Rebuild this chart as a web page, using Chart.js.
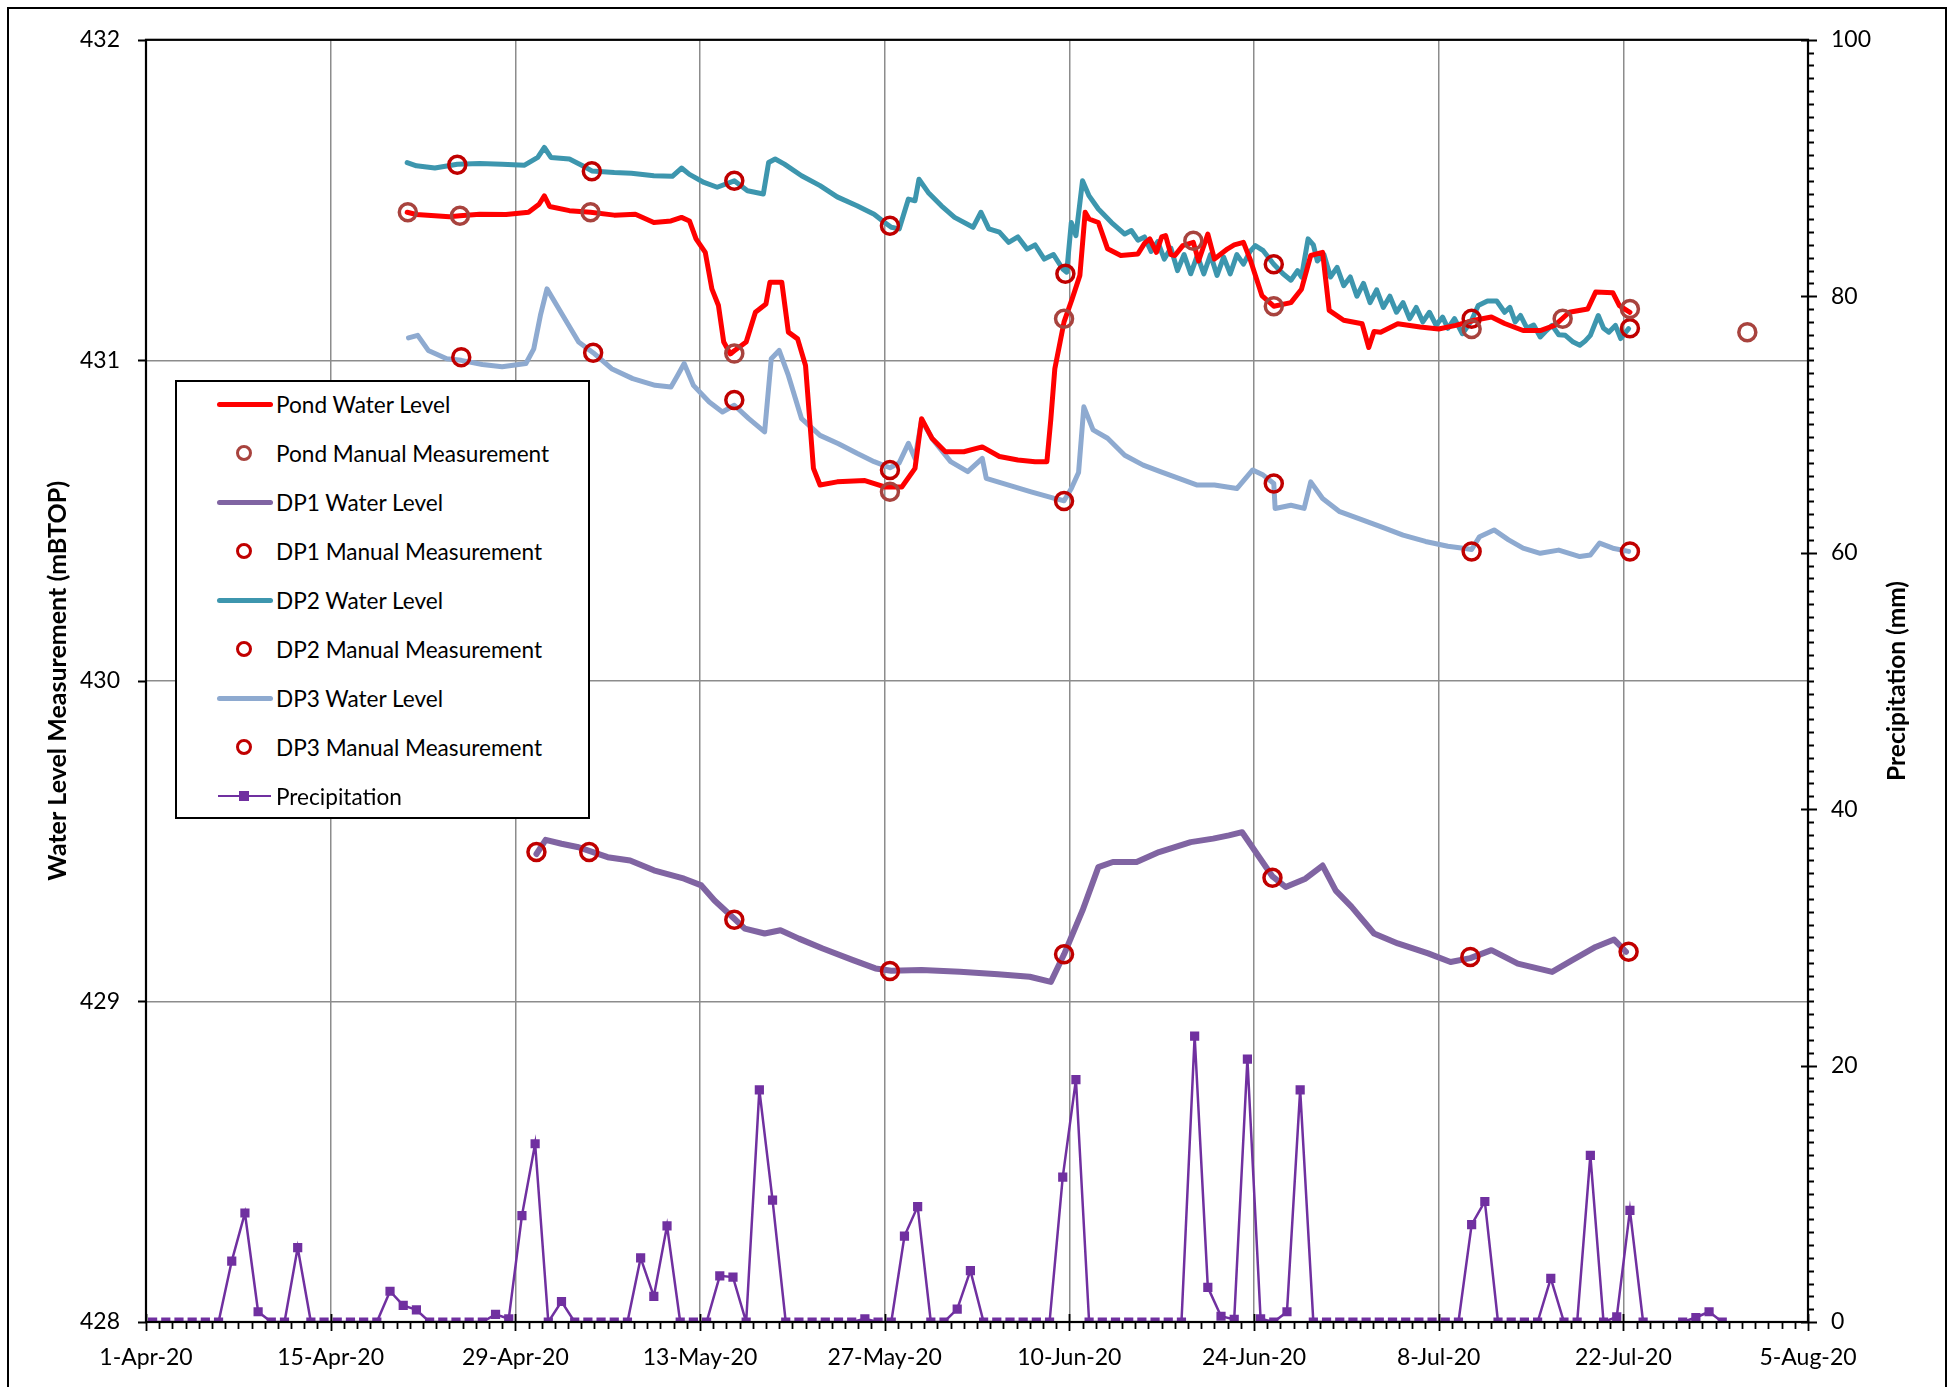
<!DOCTYPE html>
<html>
<head>
<meta charset="utf-8">
<title>Water Level Measurement and Precipitation</title>
<script src="https://cdn.jsdelivr.net/npm/chart.js@4.4.1/dist/chart.umd.min.js"></script>
<style>
  html, body { margin: 0; padding: 0; background: #fff; }
  #wrap { position: relative; width: 1959px; height: 1387px; overflow: hidden; }
  #frame { position: absolute; left: 7px; top: 7px; width: 1940px; height: 1420px;
           border: 2px solid #000; box-sizing: border-box; pointer-events: none; }
  #legend { position: absolute; left: 175px; top: 380px; width: 415px; height: 439px;
            border: 2px solid #000; box-sizing: border-box; background: #fff;
            font-family: Lato, "Open Sans", sans-serif; font-size: 22.6px; color: #000; }
  .row { position: absolute; left: 0; width: 100%; height: 49px; }
  .row .txt { position: absolute; left: 99px; top: 0; line-height: 49px; white-space: nowrap; }
  .sw { position: absolute; }
</style>
</head>
<body>
<div id="wrap">
  <canvas id="grafico" width="1959" height="1387"></canvas>
  <div id="legend"></div>
  <div id="frame"></div>
</div>
<script>
// eixo x: dias desde 1-Apr-20
const dateLabels = ['1-Apr-20', '15-Apr-20', '29-Apr-20', '13-May-20', '27-May-20', '10-Jun-20',
                    '24-Jun-20', '8-Jul-20', '22-Jul-20', '5-Aug-20'];

// Pond water level (logger)
const pondDays = [19.8, 20.5, 21.9, 23.0, 23.8, 25.3, 27.3, 29.0, 29.8, 30.2, 30.6, 32.1, 33.7, 35.5, 37.1,
  38.5, 39.8, 40.6, 41.2, 41.7, 42.4, 42.9, 43.4, 43.8, 44.3, 44.6, 45.5, 46.2, 47.0, 47.3, 48.2, 48.7, 49.4,
  50.0, 50.6, 51.1, 52.4, 54.5, 56.0, 57.3, 58.3, 58.8, 59.6, 60.6, 62.0, 63.4, 64.7, 66.1, 67.4, 68.3, 68.6,
  68.9, 69.3, 69.6, 70.2, 70.8, 71.2, 71.5, 72.2, 72.9, 73.9, 75.2, 75.7, 76.1, 76.6, 77.0, 77.3, 77.7, 78.0,
  78.6, 79.4, 79.8, 80.5, 81.0, 82.0, 82.5, 83.2, 83.7, 84.6, 85.5, 86.8, 87.6, 88.3, 89.2, 89.7, 90.8, 92.2,
  92.7, 93.1, 93.6, 94.9, 96.6, 98.0, 99.3, 100.7, 102.0, 103.0, 104.4, 105.7, 106.8, 107.9, 109.3, 109.9,
  111.2, 111.7, 112.5];
const pondLevel = [431.462, 431.455, 431.451, 431.448, 431.451, 431.456, 431.455, 431.462, 431.487, 431.513,
  431.48, 431.467, 431.462, 431.453, 431.456, 431.43, 431.435, 431.446, 431.435, 431.379, 431.337, 431.223,
  431.171, 431.057, 431.02, 431.03, 431.057, 431.15, 431.176, 431.244, 431.244, 431.088, 431.067, 430.984,
  430.663, 430.611, 430.621, 430.625, 430.605, 430.605, 430.663, 430.818, 430.756, 430.715, 430.715, 430.73,
  430.70, 430.689, 430.684, 430.684, 430.818, 430.974, 431.057, 431.12, 431.19, 431.265, 431.462, 431.441,
  431.43, 431.348, 431.327, 431.332, 431.365, 431.379, 431.337, 431.385, 431.389, 431.33, 431.327, 431.358,
  431.368, 431.31, 431.394, 431.316, 431.348, 431.36, 431.368, 431.316, 431.202, 431.169, 431.18, 431.222,
  431.327, 431.337, 431.156, 431.125, 431.114, 431.04, 431.09, 431.088, 431.114, 431.104, 431.098, 431.109,
  431.125, 431.135, 431.115, 431.093, 431.093, 431.109, 431.15, 431.16, 431.213, 431.211, 431.171, 431.15];

// DP1 water level
const dp1Days = [29.6, 30.3, 31.5, 32.7, 33.6, 35.0, 36.7, 38.5, 40.8, 42.1, 43.1, 44.6, 45.4, 46.9, 48.1,
  49.5, 51.3, 53.6, 55.3, 56.5, 58.8, 61.7, 64.6, 67.0, 68.6, 69.6, 71.0, 72.2, 73.3, 75.1, 76.8, 79.2, 80.9,
  82.1, 83.1, 84.4, 85.4, 86.4, 87.9, 89.2, 90.2, 91.4, 93.1, 94.9, 97.2, 98.9, 100.4, 102.0, 104.0, 106.6,
  108.1, 109.9, 111.3, 112.2];
const dp1Level = [429.46, 429.504, 429.492, 429.482, 429.47, 429.45, 429.44, 429.409, 429.383, 429.362,
  429.315, 429.258, 429.227, 429.212, 429.222, 429.196, 429.165, 429.129, 429.103, 429.096, 429.098, 429.093,
  429.085, 429.077, 429.061, 429.147, 429.284, 429.419, 429.435, 429.435, 429.466, 429.497, 429.508, 429.518,
  429.528, 429.45, 429.39, 429.357, 429.383, 429.424, 429.346, 429.295, 429.212, 429.181, 429.15, 429.123,
  429.135, 429.16, 429.118, 429.092, 429.128, 429.17, 429.193, 429.155];

// DP2 water level
const dp2Days = [19.8, 20.5, 21.9, 23.6, 25.3, 27.0, 28.7, 29.7, 30.2, 30.7, 32.1, 33.1, 33.8, 35.5, 36.8,
  38.5, 39.9, 40.6, 41.2, 42.3, 43.3, 44.6, 45.6, 46.8, 47.2, 47.7, 48.4, 49.7, 51.1, 52.4, 53.9, 55.2, 56.0,
  56.5, 57.1, 57.8, 58.3, 58.6, 59.3, 60.3, 61.3, 62.7, 63.3, 63.9, 64.7, 65.4, 66.1, 66.8, 67.4, 68.1, 68.8,
  69.5, 69.8, 70.15, 70.5, 71.0, 71.5, 72.2, 73.2, 74.2, 74.7, 75.2, 75.7, 76.2, 76.7, 77.2, 77.7, 78.2, 78.7,
  79.2, 79.7, 80.2, 80.7, 81.2, 81.7, 82.2, 82.7, 83.2, 83.7, 84.1, 84.7, 85.5, 86.2, 86.8, 87.3, 87.6, 88.1,
  88.5, 88.8, 89.3, 89.8, 90.3, 90.8, 91.3, 91.8, 92.3, 92.8, 93.3, 93.8, 94.3, 94.8, 95.3, 95.8, 96.3, 96.8,
  97.3, 97.8, 98.3, 98.7, 99.2, 99.8, 100.5, 101.0, 101.7, 102.4, 103.0, 103.4, 103.8, 104.2, 104.7, 105.2,
  105.7, 106.1, 106.6, 107.1, 107.6, 108.2, 108.7, 109.1, 109.5, 110.1, 110.5, 110.9, 111.4, 111.8, 112.4];
const dp2Level = [431.617, 431.607, 431.60, 431.612, 431.614, 431.612, 431.609, 431.633, 431.664, 431.633,
  431.628, 431.607, 431.591, 431.586, 431.584, 431.576, 431.574, 431.60, 431.58, 431.555, 431.54, 431.56,
  431.529, 431.519, 431.617, 431.628, 431.612, 431.576, 431.545, 431.51, 431.482, 431.456, 431.43, 431.415,
  431.41, 431.503, 431.498, 431.565, 431.524, 431.482, 431.446, 431.415, 431.462, 431.41, 431.40, 431.368,
  431.385, 431.347, 431.36, 431.316, 431.33, 431.285, 431.275, 431.43, 431.389, 431.56, 431.513, 431.472,
  431.43, 431.394, 431.405, 431.375, 431.385, 431.34, 431.37, 431.316, 431.35, 431.28, 431.33, 431.27,
  431.327, 431.27, 431.33, 431.265, 431.322, 431.27, 431.33, 431.30, 431.34, 431.358, 431.342, 431.30,
  431.27, 431.25, 431.28, 431.26, 431.379, 431.36, 431.31, 431.33, 431.26, 431.29, 431.233, 431.26, 431.20,
  431.24, 431.18, 431.22, 431.165, 431.20, 431.15, 431.18, 431.13, 431.165, 431.12, 431.15, 431.11, 431.135,
  431.10, 431.13, 431.083, 431.125, 431.171, 431.185, 431.185, 431.15, 431.165, 431.12, 431.14, 431.10,
  431.11, 431.073, 431.09, 431.109, 431.08, 431.078, 431.057, 431.047, 431.06, 431.078, 431.14, 431.10,
  431.088, 431.109, 431.068, 431.099];

// DP3 water level
const dp3Days = [19.9, 20.6, 21.4, 22.8, 23.9, 25.5, 27.0, 28.8, 29.4, 29.9, 30.4, 31.6, 32.8, 33.9, 35.3,
  36.9, 38.6, 39.8, 40.3, 40.8, 41.5, 42.7, 43.7, 44.6, 45.7, 46.9, 47.4, 48.0, 48.7, 49.7, 51.1, 52.5, 53.9,
  55.2, 56.4, 57.1, 57.8, 58.3, 58.8, 59.6, 61.0, 62.3, 63.4, 63.7, 65.4, 67.1, 68.8, 69.6, 70.15, 70.7, 71.1,
  71.8, 72.9, 74.2, 75.6, 76.9, 78.3, 79.7, 81.0, 82.7, 83.9, 84.7, 85.5, 85.6, 86.8, 87.8, 88.3, 89.2, 90.5,
  91.9, 93.6, 95.3, 97.0, 98.7, 100.0, 100.5, 101.1, 102.2, 103.3, 104.4, 105.7, 107.1, 107.9, 108.7, 109.5,
  110.2, 111.2, 112.4];
const dp3Level = [431.07, 431.078, 431.031, 431.005, 431.00, 430.987, 430.98, 430.99, 431.036, 431.14,
  431.223, 431.14, 431.057, 431.024, 430.974, 430.943, 430.922, 430.917, 430.953, 430.99, 430.922, 430.87,
  430.839, 430.86, 430.818, 430.777, 431.005, 431.031, 430.953, 430.818, 430.766, 430.74, 430.71, 430.684,
  430.665, 430.68, 430.741, 430.694, 430.813, 430.756, 430.684, 430.653, 430.694, 430.632, 430.611, 430.59,
  430.57, 430.562, 430.60, 430.65, 430.855, 430.783, 430.757, 430.704, 430.673, 430.653, 430.632, 430.611,
  430.611, 430.60, 430.658, 430.642, 430.616, 430.538, 430.548, 430.538, 430.621, 430.569, 430.528, 430.507,
  430.481, 430.455, 430.435, 430.42, 430.413, 430.41, 430.45, 430.471, 430.44, 430.414, 430.398, 430.408,
  430.398, 430.388, 430.393, 430.43, 430.414, 430.404];

// leituras manuais
const pondManualDays = [19.85, 23.8, 33.7, 44.6, 56.4, 69.6, 79.4, 85.5, 100.5, 107.4, 112.5, 121.4];
const pondManual = [431.462, 431.451, 431.462, 431.021, 430.59, 431.13, 431.373, 431.169, 431.098, 431.13,
  431.16, 431.088];
const dp1ManualDays = [29.6, 33.6, 44.6, 56.4, 69.6, 85.4, 100.4, 112.4];
const dp1Manual = [429.466, 429.466, 429.255, 429.095, 429.147, 429.386, 429.139, 429.155];
const dp2ManualDays = [23.6, 33.8, 44.6, 56.4, 69.7, 85.5, 100.5, 112.5];
const dp2Manual = [431.61, 431.59, 431.56, 431.42, 431.27, 431.30, 431.13, 431.10];
const dp3ManualDays = [23.9, 33.9, 44.6, 56.4, 69.6, 85.5, 100.5, 112.5];
const dp3Manual = [431.01, 431.024, 430.876, 430.658, 430.561, 430.616, 430.404, 430.404];

// precipitação diária (mm), índice = dia desde 1-Apr-20; null = sem registo
const precipMm = [0, 0, 0, 0, 0, 0, 4.75, 8.5, 0.8, 0, 0, 5.8, 0, 0, 0, 0, 0, 0, 2.4, 1.3,
  0.95, 0, 0, 0, 0, 0, 0.6, 0.25, 8.3, 13.9, 0, 1.6, 0, 0, 0, 0, 0, 5.0, 2.0, 7.5,
  0, 0, 0, 3.6, 3.5, 0, 18.1, 9.5, 0, 0, 0, 0, 0, 0, 0.25, 0, 0, 6.7, 9.0, 0,
  0, 1.0, 4.0, 0, 0, 0, 0, 0, 0, 11.3, 18.9, 0, 0, 0, 0, 0, 0, 0, 0, 22.3,
  2.7, 0.45, 0.2, 20.5, 0.25, 0, 0.8, 18.1, 0, 0, 0, 0, 0, 0, 0, 0, 0, 0, 0, 0,
  7.6, 9.4, 0, 0, 0, 0, 3.4, 0, 0, 13.0, 0, 0.4, 8.7, 0, null, null, 0, 0.35, 0.8, 0];

function pares(xs, ys) {
    return xs.map((d, i) => ({ x: d, y: ys[i] }));
}

const FONTE = 'Lato, "Open Sans", sans-serif';

function linha(label, xs, ys, cor, largura) {
    return {
        label: label, data: pares(xs, ys), borderColor: cor, backgroundColor: cor,
        borderWidth: largura, pointRadius: 0, tension: 0, borderJoinStyle: 'round', borderCapStyle: 'round',
        yAxisID: 'y', order: 2, legendType: 'line'
    };
}

function manual(label, xs, ys, cor) {
    return {
        label: label, data: pares(xs, ys), showLine: false, borderColor: cor,
        backgroundColor: 'rgba(0,0,0,0)', pointStyle: 'circle', pointRadius: 8.5,
        pointBorderWidth: 3.5, yAxisID: 'y', order: 0, legendType: 'circle'
    };
}

// eixos secundários e títulos: desenhados à mão para ficar igual ao Excel
const eixosExtra = {
    id: 'eixosExtra',
    afterDraw(chart) {
        const { ctx, chartArea: a, scales } = chart;
        const { x, y, y2 } = scales;
        ctx.save();
        ctx.strokeStyle = '#000';
        ctx.lineWidth = 1.8;
        ctx.beginPath();
        for (let d = 0; d <= 126; d++) {
            const px = Math.round(x.getPixelForValue(d)) + 0.5;
            if (d % 14 === 0) { ctx.moveTo(px, a.bottom - 8); ctx.lineTo(px, a.bottom + 9); }
            else { ctx.moveTo(px, a.bottom); ctx.lineTo(px, a.bottom + 7); }
        }
        for (let v = 428; v <= 432; v++) {
            const py = Math.round(y.getPixelForValue(v)) + 0.5;
            ctx.moveTo(a.left - 8, py); ctx.lineTo(a.left, py);
        }
        for (let v = 0; v <= 100; v++) {
            const py = Math.round(y2.getPixelForValue(v)) + 0.5;
            if (v % 20 === 0) { ctx.moveTo(a.right - 7, py); ctx.lineTo(a.right + 9, py); }
            else { ctx.moveTo(a.right, py); ctx.lineTo(a.right + 6, py); }
        }
        ctx.stroke();
        ctx.lineWidth = 2.2;
        ctx.strokeRect(a.left, a.top, a.right - a.left, a.bottom - a.top);

        ctx.fillStyle = '#000';
        ctx.textAlign = 'center';
        ctx.textBaseline = 'middle';
        const meio = (a.top + a.bottom) / 2;
        ctx.save();
        ctx.font = 'bold 25px ' + FONTE;
        ctx.translate(58, meio);
        ctx.rotate(-Math.PI / 2);
        ctx.fillText('Water Level Measurement (mBTOP)', 0, 0);
        ctx.restore();
        ctx.save();
        ctx.font = 'bold 24.5px ' + FONTE;
        ctx.translate(1897, meio);
        ctx.rotate(-Math.PI / 2);
        ctx.fillText('Precipitation (mm)', 0, 0);
        ctx.restore();
        ctx.restore();
    }
};

const ctx = document.getElementById('grafico').getContext('2d');

const chart = new Chart(ctx, {
    type: 'line',
    data: {
        datasets: [
            linha('Pond Water Level', pondDays, pondLevel, '#ff0000', 5),
            manual('Pond Manual Measurement', pondManualDays, pondManual, '#a8433e'),
            linha('DP1 Water Level', dp1Days, dp1Level, '#8064a2', 6),
            manual('DP1 Manual Measurement', dp1ManualDays, dp1Manual, '#c00000'),
            linha('DP2 Water Level', dp2Days, dp2Level, '#3d96ae', 5),
            manual('DP2 Manual Measurement', dp2ManualDays, dp2Manual, '#c00000'),
            linha('DP3 Water Level', dp3Days, dp3Level, '#8eaad0', 5),
            manual('DP3 Manual Measurement', dp3ManualDays, dp3Manual, '#c00000'),
            {
                label: 'Precipitation',
                // leituras registadas ao meio-dia
                data: precipMm.map((v, i) => ({ x: i + 0.5, y: v })),
                borderColor: '#7030a0', backgroundColor: '#7030a0', borderWidth: 2.5,
                pointStyle: 'rect', pointRadius: 6.5, pointBorderWidth: 0, tension: 0,
                spanGaps: true, yAxisID: 'y2', order: 0, legendType: 'marker'
            }
        ]
    },
    options: {
        responsive: false,
        animation: false,
        devicePixelRatio: 1,
        layout: { padding: { top: 36, left: 0, right: 0, bottom: 0 } },
        plugins: { legend: { display: false }, tooltip: { enabled: false } },
        scales: {
            x: {
                type: 'linear', min: 0, max: 126,
                border: { display: false },
                grid: { color: '#8c8c8c', lineWidth: 1.5, drawTicks: false },
                ticks: {
                    stepSize: 14, autoSkip: false, maxRotation: 0, padding: 22, color: '#000',
                    font: { family: FONTE, size: 23 },
                    callback: v => dateLabels[Math.round(v / 14)]
                },
                afterFit: s => { s.height = 65; }
            },
            y: {
                type: 'linear', position: 'left', min: 428, max: 432,
                border: { display: false },
                grid: { color: '#8c8c8c', lineWidth: 1.5, drawTicks: false },
                ticks: { stepSize: 1, padding: 26, color: '#000', font: { family: FONTE, size: 23 } },
                afterFit: s => { s.width = 146; }
            },
            y2: {
                type: 'linear', position: 'right', min: 0, max: 100,
                border: { display: false },
                grid: { display: false, drawTicks: false },
                ticks: { stepSize: 20, padding: 23, color: '#000', font: { family: FONTE, size: 23 } },
                afterFit: s => { s.width = 151; }
            }
        }
    },
    plugins: [eixosExtra]
});

// legenda em HTML dentro da área do gráfico
function montarLegenda() {
    const caixa = document.getElementById('legend');
    chart.data.datasets.forEach((ds, i) => {
        const row = document.createElement('div');
        row.className = 'row';
        row.style.top = (-2.5 + i * 49) + 'px';
        const cx = 67, cy = 24.5;
        if (ds.legendType === 'line') {
            const sw = document.createElement('div');
            sw.className = 'sw';
            Object.assign(sw.style, { left: '40px', width: '56px', top: (cy - 2.5) + 'px', height: '5px',
                background: ds.borderColor, borderRadius: '3px' });
            row.appendChild(sw);
        } else if (ds.legendType === 'circle') {
            const sw = document.createElement('div');
            sw.className = 'sw';
            Object.assign(sw.style, { left: (cx - 8) + 'px', top: (cy - 8) + 'px', width: '16px', height: '16px',
                border: '3.5px solid ' + ds.borderColor, borderRadius: '50%', boxSizing: 'border-box' });
            row.appendChild(sw);
        } else {
            const sw = document.createElement('div');
            sw.className = 'sw';
            Object.assign(sw.style, { left: '41px', width: '53px', top: (cy - 1.25) + 'px', height: '2.5px',
                background: ds.borderColor });
            const sq = document.createElement('div');
            sq.className = 'sw';
            Object.assign(sq.style, { left: (cx - 5) + 'px', top: (cy - 5) + 'px', width: '10px', height: '10px',
                background: ds.borderColor });
            row.appendChild(sw);
            row.appendChild(sq);
        }
        const txt = document.createElement('div');
        txt.className = 'txt';
        txt.textContent = ds.label;
        row.appendChild(txt);
        caixa.appendChild(row);
    });
}
montarLegenda();
</script>
</body>
</html>
